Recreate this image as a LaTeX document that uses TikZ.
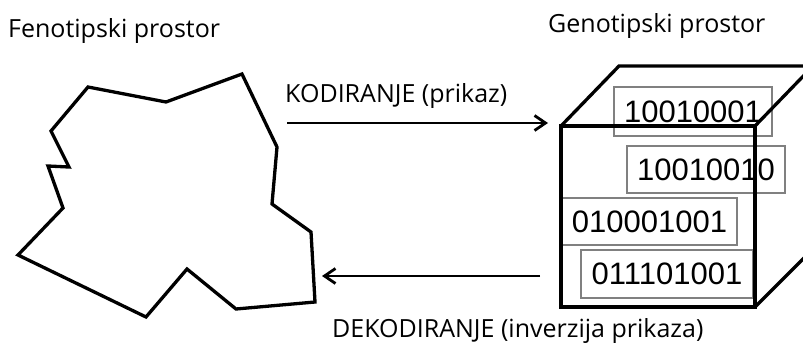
\documentclass[tikz,border=0pt]{standalone}
\usepackage{fontspec}
\setmainfont{Open Sans}
\newfontfamily\binfont{Liberation Sans}
\usepackage{tikz}
\usetikzlibrary{arrows.meta,positioning,calc}

\tikzset{
  naslov/.style={anchor=base west,inner sep=0pt,font=\fontsize{25}{30}\selectfont},
  kod/.style={draw=gray,line width=1.3pt,inner sep=0pt,font=\binfont\fontsize{31}{35}\selectfont},
  strelica/.style={line width=2.8pt,-{Straight Barb[length=11pt,width=15pt,line width=2.8pt]}},
  rub/.style={line width=3.3pt,line join=miter}
}

\begin{document}
\begin{tikzpicture}[x=1pt,y=-1pt]
		\useasboundingbox (0,0) rectangle (803,343);
		\clip (0,0) rectangle (803,343);
		\node[naslov] (feno) at (8,37) {Fenotipski prostor};
		\node[naslov] (geno) at (548,32) {Genotipski prostor};
		% fenotipski prostor
		\draw[rub] (88,87) -- (166,102) -- (242,74) -- (277,147) -- (272,204) -- (311,232) -- (315,302) -- (236,309) -- (187,269) -- (146,317) -- (18,255) -- (63,208) -- (48,166) -- (69,167) -- (51,131) -- cycle;
		% kromosomi
		\node[kod,minimum width=158pt,minimum height=49pt] (k1) at (693,111.5) {10010001};
		\node[kod,minimum width=158pt,minimum height=47pt] (k2) at (706,169.5) {10010010};
		\node[kod,minimum width=175pt,minimum height=47pt] (k3) at (649.5,221.5) {010001001};
		\node[kod,minimum width=172pt,minimum height=48pt] (k4) at (667,274) {011101001};
		% kocka
		\draw[rub] (561,126) rectangle (755,307);
		\draw[rub] (561,126) -- (619,66) -- (813,66) -- (755,126);
		\draw[rub] (755,307) -- (813,249) -- (813,66);
		% strelice
		\coordinate (kodpoc) at (287,123);
		\coordinate (kodkraj) at (548,123);
		\coordinate (dekpoc) at (540,276);
		\coordinate (dekkraj) at (322,276);
		\draw[strelica] (kodpoc) -- (kodkraj);
		\draw[strelica] (dekpoc) -- (dekkraj);
		\node[naslov] (kodlab) at (285,102) {KODIRANJE (prikaz)};
		\node[naslov] (deklab) at (332,337) {DEKODIRANJE (inverzija prikaza)};
	\end{tikzpicture}
\end{document}
